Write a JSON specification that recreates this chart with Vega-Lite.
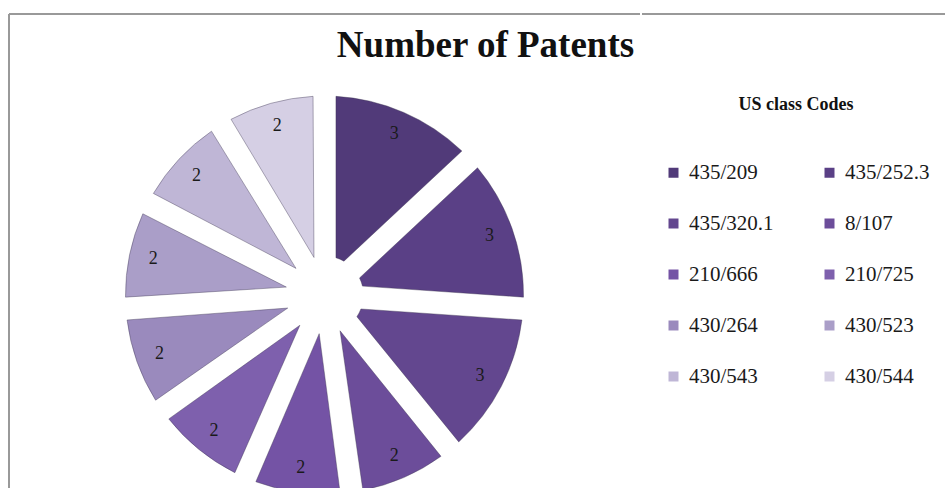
{
  "$schema": "https://vega.github.io/schema/vega-lite/v6.json",
  "autosize": {"type": "pad"},
  "padding": {"left": 8, "top": 13, "right": 0, "bottom": 0},
  "background": "white",
  "title": {
    "text": "Number of Patents",
    "font": "Liberation Serif",
    "fontSize": 37,
    "fontWeight": "bold",
    "color": "#111111",
    "anchor": "middle",
    "offset": -52,
    "dx": 7
  },
  "data": {
    "values": [
      {"idx": 1, "code": "435/209", "patents": 3},
      {"idx": 2, "code": "435/252.3", "patents": 3},
      {"idx": 3, "code": "435/320.1", "patents": 3},
      {"idx": 4, "code": "8/107", "patents": 2},
      {"idx": 5, "code": "210/666", "patents": 2},
      {"idx": 6, "code": "210/725", "patents": 2},
      {"idx": 7, "code": "430/264", "patents": 2},
      {"idx": 8, "code": "430/523", "patents": 2},
      {"idx": 9, "code": "430/543", "patents": 2},
      {"idx": 10, "code": "430/544", "patents": 2}
    ]
  },
  "spacing": 0,
  "hconcat": [
    {
      "width": 631,
      "height": 562,
      "view": {"stroke": "#999999", "strokeWidth": 2, "strokeDash": [631, 1193, 562, 0]},
      "layer": [
        {
          "mark": {"type": "arc", "innerRadius": 39, "outerRadius": 199, "padAngle": 0.113, "stroke": "#3c3450", "strokeWidth": 0.8, "strokeOpacity": 0.5},
          "encoding": {
            "theta": {"field": "patents", "type": "quantitative", "stack": true},
            "order": {"field": "idx", "type": "quantitative"},
            "color": {
              "field": "code",
              "type": "nominal",
              "sort": ["435/209", "435/252.3", "435/320.1", "8/107", "210/666", "210/725", "430/264", "430/523", "430/543", "430/544"],
              "scale": {
                "domain": ["435/209", "435/252.3", "435/320.1", "8/107", "210/666", "210/725", "430/264", "430/523", "430/543", "430/544"],
                "range": ["#513a79", "#5a4086", "#63478f", "#6c4d9a", "#7453a5", "#7e60ad", "#9a8abd", "#aa9ec8", "#bfb6d6", "#d5cfe4"]
              },
              "legend": {
                "title": "US class Codes",
                "orient": "none",
                "direction": "horizontal",
                "legendX": 654,
                "legendY": 82,
                "columns": 2,
                "padding": 0,
                "symbolType": "square",
                "symbolSize": 100,
                "symbolStrokeWidth": 0,
                "labelFont": "Liberation Serif",
                "labelFontSize": 21,
                "labelColor": "#1a1a1a",
                "labelOffset": 5,
                "labelLimit": 200,
                "titleFont": "Liberation Serif",
                "titleFontSize": 18,
                "titleFontWeight": "bold",
                "titleColor": "#111111",
                "titleAnchor": "middle",
                "titlePadding": 48,
                "rowPadding": 29,
                "columnPadding": 45
              }
            }
          }
        },
        {
          "mark": {"type": "text", "radius": 175, "font": "Liberation Serif", "fontSize": 18, "color": "#1a1a1a"},
          "encoding": {
            "theta": {"field": "patents", "type": "quantitative", "stack": true},
            "order": {"field": "idx", "type": "quantitative"},
            "text": {"field": "patents", "type": "quantitative"}
          }
        }
      ]
    },
    {
      "width": 306,
      "height": 562,
      "view": {"stroke": "#999999", "strokeWidth": 2, "strokeDash": [306, 3000]},
      "mark": {"type": "arc", "opacity": 0},
      "encoding": {
        "theta": {"field": "patents", "type": "quantitative"}
      }
    }
  ]
}
